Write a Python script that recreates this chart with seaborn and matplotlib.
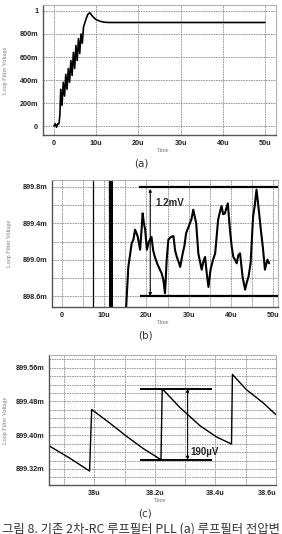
import matplotlib
matplotlib.use("Agg")
import matplotlib.pyplot as plt
import seaborn as sns
import pandas as pd
from matplotlib.ticker import MultipleLocator

# ---------------- data ----------------
# (a) loop filter voltage, time in us, voltage in V
a_time = [0, 0.3, 0.6, 0.9, 1.2, 1.4, 1.6, 1.9, 2.2, 2.5, 2.8, 3.1, 3.4, 3.7, 4.0, 4.3, 4.6,
          4.9, 5.2, 5.5, 5.8, 6.1, 6.4, 6.7, 7.0, 7.5, 8.0, 8.5, 9.0, 9.5, 10.0, 11.0, 12.0,
          13.0, 14.0, 20.0, 50.0]
a_volt = [0.0, 0.02, -0.01, 0.02, 0.02, 0.1, 0.32, 0.18, 0.38, 0.26, 0.45, 0.32, 0.5, 0.38, 0.57,
          0.44, 0.64, 0.5, 0.7, 0.57, 0.76, 0.63, 0.8, 0.72, 0.86, 0.92, 0.97, 0.985, 0.96, 0.94,
          0.925, 0.91, 0.902, 0.9, 0.9, 0.9, 0.9]

# (b) zoomed settling, time in us, voltage in mV
b_spike_time = [7.3, 7.3]
b_spike_volt = [898.0, 900.5]
b_time = [11.3, 11.4, 11.5, 11.6, 11.7, 11.8, 15.1, 15.7, 16.1, 16.5, 16.9, 17.3, 17.9,
          18.5, 18.8, 19.1, 19.4, 19.7, 20.1, 20.6, 21.2, 21.6, 22.0, 22.6, 23.2, 23.6, 24.0,
          24.4, 24.8, 25.2, 25.8, 26.4, 26.8, 27.2, 27.6, 28.0, 28.6, 29.0, 29.4, 30.3, 30.7,
          31.1, 31.8, 32.3, 32.7, 33.1, 33.5, 33.9, 34.3, 34.7, 35.2, 35.8, 36.3, 37.0, 37.4,
          37.8, 38.2, 38.6, 39.3, 39.8, 40.2, 40.6, 41.0, 41.4, 41.8, 42.2, 42.8, 43.4, 43.8,
          44.2, 44.7, 45.3, 45.7, 46.1, 46.4, 46.8, 47.2, 47.6, 48.1, 48.4, 48.7, 49.1]
b_volt = [900.5, 898.0, 900.5, 898.0, 900.5, 898.0, 898.4, 898.92, 899.05, 899.18,
          899.22, 899.33, 899.26, 899.11, 899.3, 899.51, 899.4, 899.33, 899.11, 899.2, 899.25,
          899.1, 899.03, 898.95, 898.89, 898.85, 898.78, 898.63, 899.0, 899.22, 899.25, 899.26,
          899.1, 899.03, 898.98, 898.92, 899.07, 899.15, 899.29, 899.4, 899.45, 899.55, 899.4,
          899.07, 898.98, 898.89, 898.98, 899.03, 898.85, 898.7, 898.89, 899.0, 899.07, 899.44,
          899.52, 899.59, 899.5, 899.51, 899.62, 899.33, 899.15, 899.03, 899.0, 898.96, 899.05,
          899.07, 898.81, 898.67, 898.75, 898.81, 898.96, 899.48, 899.6, 899.77, 899.65, 899.48,
          899.3, 899.14, 898.89, 898.95, 899.0, 898.96]

# (c) ripple, time in us, voltage in mV
c_time = [37.852, 37.92, 37.984, 37.991, 38.052, 38.107, 38.162, 38.22, 38.224, 38.282,
          38.348, 38.403, 38.453, 38.456, 38.502, 38.557, 38.599]
c_volt = [899.374, 899.345, 899.315, 899.461, 899.428, 899.397, 899.368, 899.342, 899.51,
          899.466, 899.423, 899.396, 899.379, 899.544, 899.508, 899.477, 899.449]

a_xticks = [0, 10, 20, 30, 40, 50]
a_xlabels = ["0", "10u", "20u", "30u", "40u", "50u"]
a_yticks = [0, 0.2, 0.4, 0.6, 0.8, 1.0]
a_ylabels = ["0", "200m", "400m", "600m", "800m", "1"]
b_xticks = [0, 10, 20, 30, 40, 50]
b_xlabels = ["0", "10u", "20u", "30u", "40u", "50u"]
b_yticks = [898.6, 899.0, 899.4, 899.8]
b_ylabels = ["898.6m", "899.0m", "899.4m", "899.8m"]
c_xticks = [38.0, 38.2, 38.4, 38.6]
c_xlabels = ["38u", "38.2u", "38.4u", "38.6u"]
c_yticks = [899.32, 899.40, 899.48, 899.56]
c_ylabels = ["899.32m", "899.40m", "899.48m", "899.56m"]

caption = "그림 8. 기존 2차-RC 루프필터 PLL (a) 루프필터 전압변"

# ---------------- figure ----------------
sns.set_theme(style="white")
plt.rcParams['font.family'] = ['DejaVu Sans']

W, H = 282, 534
fig = plt.figure(figsize=(W / 100, H / 100), dpi=100)
fig.patch.set_facecolor("white")


def px_axes(l, t, r, b):
    return fig.add_axes([l / W, 1 - b / H, (r - l) / W, (b - t) / H])


def style(ax, xt, xl, yt, yl, xminor, ygrid, xgrid):
    ax.set_xticks(xt)
    ax.set_xticklabels(xl)
    ax.set_yticks(yt)
    ax.set_yticklabels(yl)
    ax.xaxis.set_minor_locator(MultipleLocator(xminor))
    ax.tick_params(axis="both", which="major", labelsize=5.2, length=2.0, width=0.8,
                   direction="out", pad=1.5, colors="#222222")
    ax.tick_params(axis="x", which="minor", length=1.3, width=0.5, direction="out",
                   colors="#444444")
    for lab in ax.get_xticklabels() + ax.get_yticklabels():
        lab.set_fontweight("bold")
        lab.set_fontfamily("Liberation Sans")
    ax.set_xlabel("")
    ax.set_ylabel("")
    for g in xgrid:
        ax.axvline(g, color="#8a8a8a", lw=0.6, ls=(0, (2, 1)), zorder=0)
    for g in ygrid:
        ax.axhline(g, color="#8a8a8a", lw=0.6, ls=(0, (2, 1)), zorder=0)
    for s in ["top", "right"]:
        ax.spines[s].set_color("#b0b0b0")
        ax.spines[s].set_linewidth(0.8)
    for s in ["left", "bottom"]:
        ax.spines[s].set_color("#555555")
        ax.spines[s].set_linewidth(1.0)


# ----- (a) -----
axa = px_axes(43, 5, 276, 135)
dfa = pd.DataFrame({"t": a_time, "v": a_volt})
sns.lineplot(data=dfa, x="t", y="v", ax=axa, color="black", lw=1.2, sort=False,
             estimator=None)
axa.set_xlim(-2.6, 52.6)
axa.set_ylim(-0.078, 1.052)
style(axa, a_xticks, a_xlabels, a_yticks, a_ylabels, 1.0,
      [0, 0.2, 0.4, 0.6, 0.8, 1.0], [0, 10, 20, 30, 40, 50])

# ----- (b) -----
axb = px_axes(52, 180, 278, 307)
dfs = pd.DataFrame({"t": b_spike_time, "v": b_spike_volt})
sns.lineplot(data=dfs, x="t", y="v", ax=axb, color="black", lw=0.9, sort=False,
             estimator=None)
dfb = pd.DataFrame({"t": b_time, "v": b_volt})
sns.lineplot(data=dfb, x="t", y="v", ax=axb, color="black", lw=1.5, sort=False,
             estimator=None)
axb.set_xlim(-2.4, 51.2)
axb.set_ylim(898.479, 899.877)
style(axb, b_xticks, b_xlabels, b_yticks, b_ylabels, 1.0,
      [898.6, 898.8, 899.0, 899.2, 899.4, 899.6, 899.8],
      [0, 5, 10, 15, 20, 25, 30, 35, 40, 45, 50])
axb.plot([18.3, 51.2], [899.8, 899.8], color="black", lw=1.6, solid_capstyle="butt")
axb.plot([18.5, 51.2], [898.6, 898.6], color="black", lw=1.6, solid_capstyle="butt")
axb.annotate("", xy=(20.9, 899.78), xytext=(20.9, 898.6),
             arrowprops=dict(arrowstyle="<|-|>", color="black", lw=0.8,
                             mutation_scale=4, shrinkA=0, shrinkB=0))
axb.text(22.0, 899.62, "1.2mV", fontsize=7, fontweight="bold", family="Liberation Sans",
         va="center", ha="left")

# ----- (c) -----
axc = px_axes(49, 355, 276, 485)
dfc = pd.DataFrame({"t": c_time, "v": c_volt})
sns.lineplot(data=dfc, x="t", y="v", ax=axc, color="black", lw=1.0, sort=False,
             estimator=None)
axc.set_xlim(37.85, 38.6)
axc.set_ylim(899.282, 899.59)
style(axc, c_xticks, c_xlabels, c_yticks, c_ylabels, 0.02,
      [899.30 + 0.02 * i for i in range(15)],
      [37.9, 38.0, 38.1, 38.2, 38.3, 38.4, 38.5, 38.6])
last = axc.get_xticklabels()[-1]
last.set_horizontalalignment("right")
axc.plot([38.15, 38.387], [899.51, 899.51], color="black", lw=1.4, solid_capstyle="butt")
axc.plot([38.15, 38.387], [899.342, 899.342], color="black", lw=1.4, solid_capstyle="butt")
axc.annotate("", xy=(38.308, 899.51), xytext=(38.308, 899.342),
             arrowprops=dict(arrowstyle="<|-|>", color="black", lw=0.8,
                             mutation_scale=4, shrinkA=0, shrinkB=0))
axc.text(38.318, 899.36, "190µV", fontsize=7, fontweight="bold", family="Liberation Sans",
         va="center", ha="left")

# ----- axis labels & captions -----
def ftext(x, y, s, **kw):
    fig.text(x / W, 1 - y / H, s, **kw)

lab_kw = dict(fontsize=4.3, color="#777777", family="Liberation Serif", ha="center",
              va="center")
ftext(6, 70, "Loop Filter Voltage", rotation=90, **lab_kw)
ftext(10, 243, "Loop Filter Voltage", rotation=90, **lab_kw)
ftext(6, 420, "Loop Filter Voltage", rotation=90, **lab_kw)
ftext(163, 150, "Time", **lab_kw)
ftext(163, 323, "Time", **lab_kw)
ftext(160, 500, "Time", **lab_kw)

cap_kw = dict(fontsize=7.5, color="#333333", family="DejaVu Sans", ha="center", va="center")
ftext(141, 163, "(a)", **cap_kw)
ftext(145, 336, "(b)", **cap_kw)
ftext(145, 513, "(c)", **cap_kw)
ftext(141, 529, caption, fontsize=8.9, color="#333333",
      family=["Noto Sans CJK KR", "DejaVu Sans"], ha="center", va="center")

fig.savefig("out.png", dpi=100, facecolor="white")
